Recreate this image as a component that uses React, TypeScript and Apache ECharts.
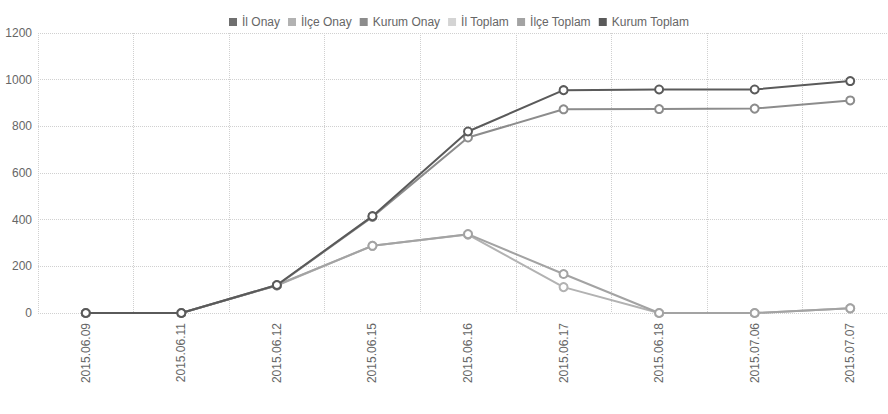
import React, { useEffect, useRef } from "react";
import * as echarts from "echarts";

const categories = [
  "2015.06.09",
  "2015.06.11",
  "2015.06.12",
  "2015.06.15",
  "2015.06.16",
  "2015.06.17",
  "2015.06.18",
  "2015.07.06",
  "2015.07.07",
];

const seriesNames = ["İl Onay", "İlçe Onay", "Kurum Onay", "İl Toplam", "İlçe Toplam", "Kurum Toplam"];

// İl series show no visible marks in the reference (no points drawn)
const ilOnay = [null, null, null, null, null, null, null, null, null];
const ilceOnay = [0, 0, 118, 288, 336, 111, 0, 0, 20];
const kurumOnay = [0, 0, 118, 412, 752, 873, 874, 876, 911];
const ilToplam = [null, null, null, null, null, null, null, null, null];
const ilceToplam = [0, 0, 120, 288, 338, 167, 0, 0, 20];
const kurumToplam = [0, 0, 120, 415, 778, 955, 958, 958, 994];

const yMin = 0;
const yMax = 1200;
const yInterval = 200;

const colors = ["#6f6f6f", "#b2b2b2", "#8c8c8c", "#d4d4d4", "#a3a3a3", "#5a5a5a"];
const seriesData = [ilOnay, ilceOnay, kurumOnay, ilToplam, ilceToplam, kurumToplam];

const FONT = "'Liberation Sans', Arial, sans-serif";

export default function App() {
  const ref = useRef<HTMLDivElement>(null);

  useEffect(() => {
    if (!ref.current) return;
    const chart = echarts.init(ref.current, null, { renderer: "svg" });
    chart.setOption({
      animation: false,
      backgroundColor: "#ffffff",
      color: colors,
      textStyle: { fontFamily: FONT },
      legend: {
        data: seriesNames,
        left: 224,
        top: 11,
        icon: "rect",
        itemWidth: 8,
        itemHeight: 8,
        itemGap: 8,
        textStyle: { fontSize: 12, color: "#666", fontFamily: FONT },
      },
      grid: { left: 38, top: 33, width: 860, height: 280, containLabel: false },
      xAxis: {
        type: "category",
        data: categories,
        boundaryGap: true,
        axisLine: { show: false },
        axisTick: { show: false },
        axisLabel: { rotate: 90, margin: 10, fontSize: 12, color: "#666", fontFamily: FONT },
        splitLine: { show: true, lineStyle: { color: "#d0d0d0", type: "dotted", width: 1 } },
      },
      yAxis: {
        type: "value",
        min: yMin,
        max: yMax,
        interval: yInterval,
        axisLine: { show: false },
        axisTick: { show: false },
        axisLabel: {
          margin: 6,
          fontSize: 12,
          color: "#666",
          fontFamily: FONT,
          formatter: (v: number) => String(v),
        },
        splitLine: { show: true, lineStyle: { color: "#d0d0d0", type: "dotted", width: 1 } },
      },
      series: seriesNames.map((name, i) => ({
        name,
        type: "line",
        data: seriesData[i],
        symbol: "emptyCircle",
        symbolSize: 8,
        clip: false,
        z: i === 5 ? 10 : i === 2 ? 9 : 5,
        lineStyle: { width: 2, color: colors[i] },
        itemStyle: { color: colors[i], borderWidth: 2 },
      })),
    });
    return () => chart.dispose();
  }, []);

  return (
    <div style={{ position: "fixed", left: 0, top: 0, width: 888, height: 414, overflow: "hidden", background: "#fff" }}>
      <div ref={ref} style={{ width: 900, height: 414 }} />
    </div>
  );
}
